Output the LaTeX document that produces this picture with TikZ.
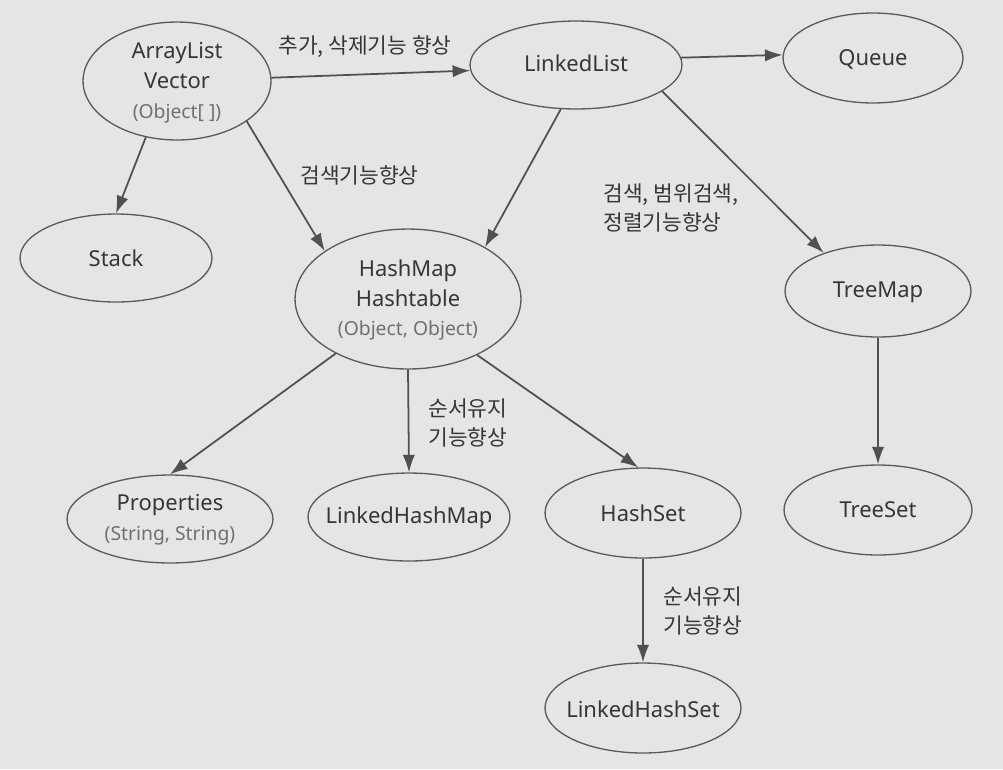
\documentclass[tikz,border=0pt]{standalone}
\usepackage{fontspec}
\setmainfont{Noto Sans}
\newfontfamily\kr{Noto Sans CJK KR}
\usetikzlibrary{shapes.geometric,arrows.meta}
\definecolor{paper}{HTML}{E5E5E3}
\definecolor{ink}{HTML}{363636}
\definecolor{lineink}{HTML}{5A5A5A}
\definecolor{arrowink}{HTML}{505050}
\definecolor{subink}{HTML}{707070}
\tikzset{
  ov/.style 2 args={ellipse, draw=lineink, line width=0.75pt, inner sep=0pt,
    minimum width=#1*0.04cm, minimum height=#2*0.04cm},
  txt/.style={text=ink, align=center, inner sep=0pt,
    font=\fontsize{12.5}{17}\selectfont},
  conn/.style={draw=arrowink, line width=1pt, -{Latex[length=10pt,width=7pt]}},
  lbl/.style={text=ink, align=left, font=\kr\fontsize{12.2}{16.5}\selectfont, inner sep=0pt}
}
\newcommand{\subtxt}[1]{{\color{subink}\fontsize{11}{13}\selectfont #1}}
\begin{document}
\begin{tikzpicture}[x=0.02cm,y=-0.02cm]
\fill[paper] (0,0) rectangle (1003,769);
\useasboundingbox (0,0) rectangle (1003,769);

% ellipses
\node[ov={94}{59}]  (al)  at (177,81)  {};
\node[ov={106}{44}] (ll)  at (576,65)  {};
\node[ov={90}{45}]  (q)   at (873,58)  {};
\node[ov={96}{44}]  (st)  at (116,258) {};
\node[ov={113}{70}] (hm)  at (408,299) {};
\node[ov={93}{46}]  (tm)  at (878,291) {};
\node[ov={103}{44}] (pr)  at (170,519) {};
\node[ov={101}{44}] (lhm) at (409,517) {};
\node[ov={98}{45}]  (hs)  at (643,513) {};
\node[ov={94}{45}]  (ts)  at (878,510) {};
\node[ov={98}{45}]  (lhs) at (643,708) {};

% node texts
\node[txt] (alt)  at (177,83)  {ArrayList\\Vector\\\subtxt{(Object[ ])}};
\node[txt] (llt)  at (576,63)  {LinkedList};
\node[txt] (qt)   at (873,59)  {Queue};
\node[txt] (stt)  at (116,258) {Stack};
\node[txt] (hmt)  at (408,300) {HashMap\\Hashtable\\\subtxt{(Object, Object)}};
\node[txt] (tmt)  at (878,292) {TreeMap};
\node[txt] (prt)  at (170,520) {Properties\\\subtxt{(String, String)}};
\node[txt] (lhmt) at (409,518) {LinkedHashMap};
\node[txt] (hst)  at (643,513) {HashSet};
\node[txt] (tst)  at (878,510) {TreeSet};
\node[txt] (lhst) at (643,709) {LinkedHashSet};

% connectors
\draw[conn] (al.2) -- (ll.183);
\draw[conn] (ll.4) -- (q.178);
\draw[conn] (al.-119) -- (st.north);
\draw[conn] (al.-30) -- (hm.150);
\draw[conn] (ll.-109) -- (hm.34);
\draw[conn] (ll.-17) -- (tm.145);
\draw[conn] (hm.-143) -- (pr.north);
\draw[conn] (hm.south) -- (lhm.north);
\draw[conn] (hm.-39) -- (hs.96);
\draw[conn] (tm.south) -- (ts.north);
\draw[conn] (hs.south) -- (lhs.north);

% labels
\node[lbl, anchor=west] (l1) at (278,47)  {추가, 삭제기능 향상};
\node[lbl, anchor=west] (l2) at (300,175) {검색기능향상};
\node[lbl, anchor=west] (l3) at (603,208) {검색, 범위검색,\\정렬기능향상};
\node[lbl, anchor=west] (l4) at (428,423) {순서유지\\기능향상};
\node[lbl, anchor=west] (l5) at (663,611) {순서유지\\기능향상};
\end{tikzpicture}
\end{document}
